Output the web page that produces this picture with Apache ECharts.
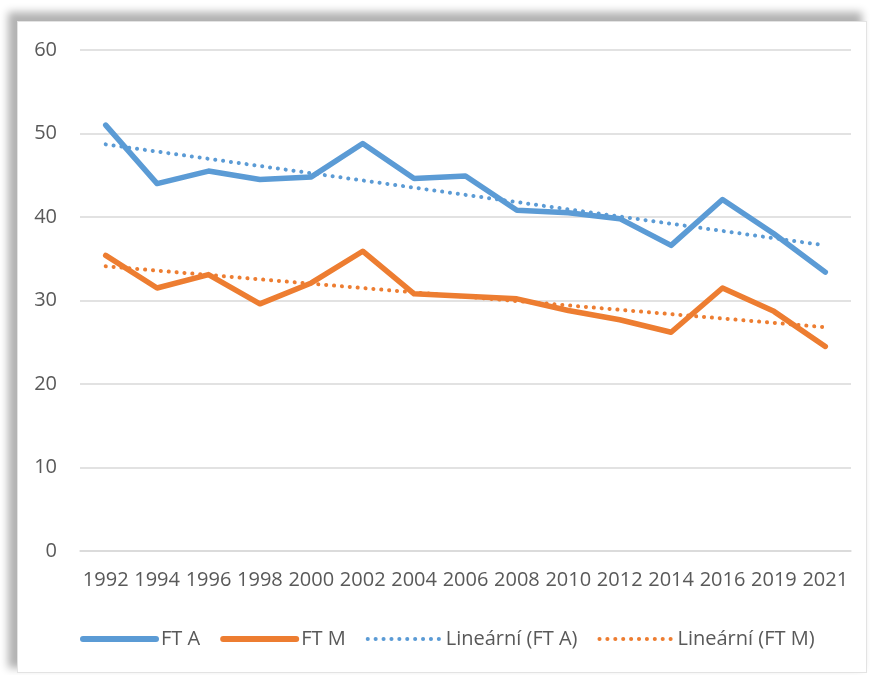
<!DOCTYPE html>
<html>
<head>
<meta charset="utf-8">
<title>FT A / FT M</title>
<script src="https://cdn.jsdelivr.net/npm/echarts@6/dist/echarts.min.js"></script>
<style>
  html, body { margin: 0; padding: 0; background: #fff; }
  .frame {
    position: absolute;
    left: 17px; top: 21px;
    width: 848px; height: 650px;
    background: #fff;
    border: 1px solid #e3e3e3;
    box-shadow: -7px -7px 8px 2px rgba(0,0,0,0.3);
  }
  .chart {
    position: absolute;
    left: 0; top: 0;
    width: 870px; height: 675px;
  }
</style>
</head>
<body>
<div class="frame"></div>
<div class="chart" id="chart"></div>
<script>
  var years = ['1992', '1994', '1996', '1998', '2000', '2002', '2004', '2006', '2008', '2010', '2012', '2014', '2016', '2019', '2021'];
  var ftA = [51.0, 44.0, 45.5, 44.5, 44.8, 48.8, 44.6, 44.9, 40.8, 40.5, 39.8, 36.6, 42.1, 38.0, 33.4];
  var ftM = [35.4, 31.5, 33.1, 29.6, 32.1, 35.9, 30.8, 30.5, 30.2, 28.8, 27.7, 26.2, 31.5, 28.7, 24.5];
  // trend lines: value at first and last year
  var trendA = [48.7, 36.6];
  var trendM = [34.1, 26.8];
  var yTicks = [0, 10, 20, 30, 40, 50, 60];

  var blue = '#5b9bd5';
  var orange = '#ed7d31';
  var textColor = '#595959';
  var font = '"Open Sans", "Noto Sans", sans-serif';
  var dots = [0.1, 7.8];

  function trendData(t) {
    return [[years[0], t[0]], [years[years.length - 1], t[1]]];
  }

  var myChart = echarts.init(document.getElementById('chart'));

  var option = {
    animation: false,
    textStyle: { fontFamily: font },
    grid: {
      left: 80,
      right: 19,
      top: 50,
      bottom: 124,
      containLabel: false
    },
    legend: {
      left: 75,
      top: 624,
      itemWidth: 73,
      itemHeight: 22,
      itemGap: 20,
      textStyle: { color: textColor, fontSize: 20, fontFamily: font },
      data: [
        { name: 'FT A', itemStyle: { opacity: 0 }, lineStyle: { width: 6, cap: 'round' } },
        { name: 'FT M', itemStyle: { opacity: 0 }, lineStyle: { width: 6, cap: 'round' } },
        { name: 'Lineární (FT A)', itemStyle: { opacity: 0 }, lineStyle: { width: 4, type: dots, cap: 'round' } },
        { name: 'Lineární (FT M)', itemStyle: { opacity: 0 }, lineStyle: { width: 4, type: dots, cap: 'round' } }
      ]
    },
    xAxis: {
      type: 'category',
      boundaryGap: true,
      data: years,
      axisLine: { show: true, lineStyle: { color: '#d9d9d9', width: 1.5 } },
      axisTick: { show: false },
      axisLabel: { color: textColor, fontSize: 20, margin: 19, interval: 0, fontFamily: font }
    },
    yAxis: {
      type: 'value',
      min: yTicks[0],
      max: yTicks[yTicks.length - 1],
      interval: 10,
      axisLine: { show: false },
      axisTick: { show: false },
      axisLabel: { color: textColor, fontSize: 20, margin: 23, fontFamily: font },
      splitLine: { lineStyle: { color: '#d9d9d9', width: 1.5 } }
    },
    series: [
      {
        name: 'FT A',
        type: 'line',
        data: ftA,
        symbol: 'none',
        color: blue,
        lineStyle: { color: blue, width: 5.5, cap: 'round', join: 'round' },
        z: 3
      },
      {
        name: 'FT M',
        type: 'line',
        data: ftM,
        symbol: 'none',
        color: orange,
        lineStyle: { color: orange, width: 5.5, cap: 'round', join: 'round' },
        z: 3
      },
      {
        name: 'Lineární (FT A)',
        type: 'line',
        data: trendData(trendA),
        symbol: 'none',
        color: blue,
        lineStyle: { color: blue, width: 4, type: dots, cap: 'round' },
        z: 2
      },
      {
        name: 'Lineární (FT M)',
        type: 'line',
        data: trendData(trendM),
        symbol: 'none',
        color: orange,
        lineStyle: { color: orange, width: 4, type: dots, cap: 'round' },
        z: 2
      }
    ]
  };

  myChart.setOption(option);
  window.addEventListener('resize', function () {
    myChart.resize();
  });
</script>
</body>
</html>
